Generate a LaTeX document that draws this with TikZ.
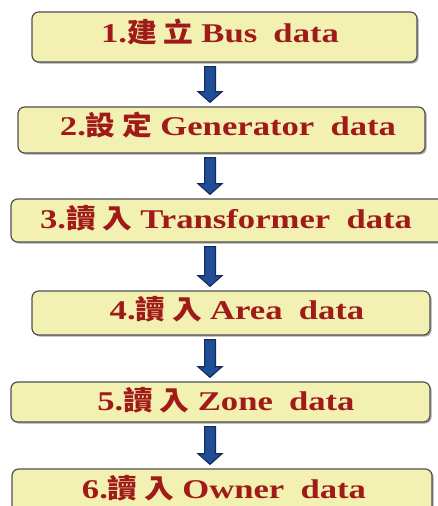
\documentclass[tikz,border=0pt]{standalone}
\usepackage{fontspec}
\setmainfont[FakeStretch=1.28]{Liberation Serif}
\newfontfamily\cjk[FakeStretch=1.1]{Noto Sans CJK TC}
\usetikzlibrary{shadows,calc}
\definecolor{boxfill}{HTML}{F3F1B2}
\definecolor{boxline}{HTML}{505050}
\definecolor{txtred}{HTML}{A01A1A}
\definecolor{arrblue}{HTML}{1F4E96}
\definecolor{arrline}{HTML}{14285A}
\newcommand\cj[1]{{\cjk #1}}
\newcommand\flowarr[2]{%
  \draw[arr] let \p1=(#1.south), \p2=(#2.north) in
  (153.4pt,\y1-3pt) -- (161.6pt,\y1-3pt) -- (161.6pt,\y2+11pt) -- (166.5pt,\y2+11pt)
  -- (157.5pt,\y2+3pt) -- (148.5pt,\y2+11pt) -- (153.4pt,\y2+11pt) -- cycle;}
\begin{document}
\begin{tikzpicture}[x=0.75pt,y=-0.75pt,
  box/.style={draw=boxline, line width=0.9pt, fill=boxfill, rounded corners=5pt, inner sep=0pt,
    drop shadow={shadow xshift=1.2pt,shadow yshift=-1.2pt,opacity=0.35,fill=black}},
  lab/.style={text=txtred, font=\fontsize{20.3}{23}\selectfont\bfseries, inner sep=0pt, anchor=base},
  arr/.style={fill=arrblue, draw=arrline, line width=0.8pt, line join=miter}]
\useasboundingbox (0,0) rectangle (438,506);
\node[box, minimum width=385*0.75pt, minimum height=50*0.75pt] (b1) at (224.5,37) {};
\node[box, minimum width=407*0.75pt, minimum height=46*0.75pt] (b2) at (221.5,130) {};
\node[box, minimum width=434*0.75pt, minimum height=43*0.75pt] (b3) at (228,220.5) {};
\node[box, minimum width=398*0.75pt, minimum height=44*0.75pt] (b4) at (231,313) {};
\node[box, minimum width=419*0.75pt, minimum height=40*0.75pt] (b5) at (220.5,402) {};
\node[box, minimum width=420*0.75pt, minimum height=50*0.75pt] (b6) at (222,494) {};
\node[lab] (t1) at (220,43) {1.\cj{建\hspace{0.25em}立}\hspace{0.3em}Bus\hspace{0.6em}data};
\node[lab] (t2) at (228,136) {2.\cj{設\hspace{0.25em}定}\hspace{0.3em}Generator\hspace{0.6em}data};
\node[lab] (t3) at (226,228) {3.\cj{讀\hspace{0.25em}入}\hspace{0.3em}Transformer\hspace{0.6em}data};
\node[lab] (t4) at (237,319) {4.\cj{讀\hspace{0.25em}入}\hspace{0.3em}Area\hspace{0.6em}data};
\node[lab] (t5) at (226,410) {5.\cj{讀\hspace{0.25em}入}\hspace{0.3em}Zone\hspace{0.6em}data};
\node[lab] (t6) at (224,498) {6.\cj{讀\hspace{0.25em}入}\hspace{0.3em}Owner\hspace{0.6em}data};
\flowarr{b1}{b2}
\flowarr{b2}{b3}
\flowarr{b3}{b4}
\flowarr{b4}{b5}
\flowarr{b5}{b6}
\end{tikzpicture}
\end{document}
